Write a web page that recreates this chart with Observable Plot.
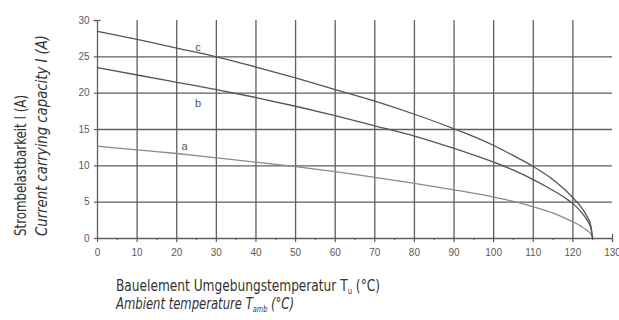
<!DOCTYPE html>
<html><head><meta charset="utf-8">
<script src="https://cdn.jsdelivr.net/npm/d3@7"></script>
<script src="https://cdn.jsdelivr.net/npm/@observablehq/plot@0.6"></script>
<style>body{margin:0;background:#fff} svg{display:block}</style>
</head><body><div id="chart"></div>
<script>
// Ambient temperature (°C) sample points
const temps  = [0, 10, 20, 30, 40, 50, 60, 70, 80, 90, 100, 105, 110, 115, 118, 120, 122, 123.5, 124.5, 125];
// Current carrying capacity (A) for curves a, b, c
const curveA = [12.7, 12.2, 11.7, 11.1, 10.5, 9.9, 9.2, 8.4, 7.6, 6.7, 5.7, 5.1, 4.35, 3.5, 2.8, 2.3, 1.7, 1.15, 0.65, 0];
const curveB = [23.5, 22.5, 21.5, 20.5, 19.4, 18.2, 16.9, 15.5, 14.1, 12.4, 10.5, 9.4, 8.1, 6.6, 5.6, 4.8, 3.7, 2.6, 1.5, 0];
const curveC = [28.5, 27.4, 26.2, 25.0, 23.6, 22.1, 20.5, 18.9, 17.1, 15.1, 12.8, 11.4, 9.9, 8.1, 6.7, 5.6, 4.4, 3.1, 1.8, 0];
const curveNames = ["a", "b", "c"];
const curveColors = ["#8a8a8a", "#555555", "#555555"];

const xTicks = [0, 10, 20, 30, 40, 50, 60, 70, 80, 90, 100, 110, 120, 130];
const xMinorTicks = [5, 15, 25, 35, 45, 55, 65, 75, 85, 95, 105, 115, 125];
const yTicks = [0, 5, 10, 15, 20, 25, 30];
const xGrid = [10, 20, 30, 40, 50, 60, 70, 80, 90, 100, 110, 120];
const yGrid = [5, 10, 15, 20, 25];

const labelNames = ["c", "b", "a"];
const labelT = [25.4, 25.4, 22.0];
const labelI = [26.3, 18.6, 12.7];

const yTitle1 = "Strombelastbarkeit I (A)";
const yTitle2 = "Current carrying capacity I (A)";

const series = [curveA, curveB, curveC];
const rows = [];
series.forEach((vals, k) => vals.forEach((v, i) => rows.push({curve: curveNames[k], t: temps[i], i: v})));
const labels = labelNames.map((n, k) => ({name: n, t: labelT[k], i: labelI[k]}));

const gridColor = "#5f5f5f";
const tickColor = "#5a5a5a";

const chart = Plot.plot({
  width: 619,
  height: 320,
  marginLeft: 97,
  marginRight: 7,
  marginTop: 20,
  marginBottom: 82,
  style: {fontFamily: "'Liberation Sans', Arial, sans-serif", background: "#fff"},
  x: {domain: [0, 130]},
  y: {domain: [0, 30]},
  color: {domain: curveNames, range: curveColors},
  marks: [
    Plot.ruleY(yGrid, {x1: 0, x2: 130, stroke: gridColor, strokeWidth: 1.3}),
    Plot.ruleX(xGrid, {y1: 0, y2: 30, stroke: gridColor, strokeWidth: 1.3}),
    Plot.ruleY([0], {x1: 0, x2: 130, stroke: gridColor, strokeWidth: 1.3}),
    Plot.ruleX([0], {y1: 0, y2: 30, stroke: gridColor, strokeWidth: 1.3}),
    Plot.axisX(xTicks, {tickSize: 4, tickPadding: 6, fontSize: 10, color: tickColor, label: null, strokeWidth: 1.2}),
    Plot.axisX(xMinorTicks, {tickSize: 2, tickFormat: () => "", color: tickColor, label: null}),
    Plot.axisX([130], {tickSize: 8, dy: -4, tickFormat: () => "", color: tickColor, label: null, strokeWidth: 1.2}),
    Plot.axisY(yTicks, {tickSize: 3, tickPadding: 5, fontSize: 10, color: tickColor, label: null, strokeWidth: 1.2}),
    Plot.axisY([30], {tickSize: 7, dx: 3.5, tickFormat: () => "", color: tickColor, label: null, strokeWidth: 1.2}),
    Plot.line(rows, {x: "t", y: "i", z: "curve", stroke: "curve", strokeWidth: 1.3, curve: "monotone-x"}),
    Plot.text(labels, {x: "t", y: "i", text: "name", fontSize: 11, fill: "#555"})
  ]
});

document.getElementById("chart").appendChild(chart);

const svg = d3.select(chart);
const titleFont = "'Liberation Sans Narrow', 'DejaVu Sans Condensed', 'Roboto', sans-serif";
const g = svg.append("g").attr("font-family", titleFont).attr("font-size", 16)
  .attr("fill", "#333").attr("text-anchor", "start");

// Y titles (rotated)
g.append("text").attr("transform", "translate(26,236) rotate(-90)")
  .attr("textLength", 141).attr("lengthAdjust", "spacingAndGlyphs")
  .text(yTitle1);
g.append("text").attr("transform", "translate(47,236) rotate(-90)")
  .attr("font-style", "italic")
  .attr("textLength", 201).attr("lengthAdjust", "spacingAndGlyphs")
  .text(yTitle2);

// X titles
const t1 = g.append("text").attr("x", 116).attr("y", 291)
  .attr("textLength", 264).attr("lengthAdjust", "spacingAndGlyphs");
t1.append("tspan").text("Bauelement Umgebungstemperatur T");
t1.append("tspan").attr("font-size", 9).attr("dy", 3).text("u");
t1.append("tspan").attr("dy", -3).text(" (°C)");

const t2 = g.append("text").attr("x", 116).attr("y", 309).attr("font-style", "italic")
  .attr("textLength", 178).attr("lengthAdjust", "spacingAndGlyphs");
t2.append("tspan").text("Ambient temperature T");
t2.append("tspan").attr("font-size", 9).attr("dy", 3).text("amb");
t2.append("tspan").attr("dy", -3).text(" (°C)");
</script>
</body></html>
